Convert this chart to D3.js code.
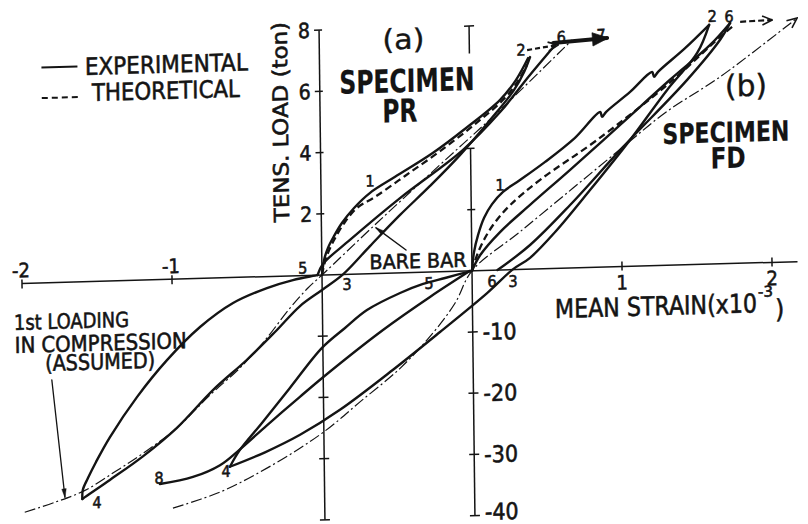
<!DOCTYPE html>
<html><head><meta charset="utf-8">
<script src="https://cdn.jsdelivr.net/npm/d3@7"></script>
<style>
html,body{margin:0;padding:0;background:#fff;}
svg{display:block;}
text{font-family:'DejaVu Sans Condensed','DejaVu Sans',sans-serif;font-stretch:condensed;fill:#141414;stroke:#141414;stroke-width:0.55px;}
text.heavy{stroke-width:0.2px;}
text.light{stroke-width:0.35px;}
</style></head><body>
<svg id="chart" width="808" height="524"></svg>
<script>
// Mean strain in units of 1e-3, load in tons (tension positive, compression negative).
const strainTicksPR = [-2, -1];
const strainTicksFD = [1, 2];
const tensionTicks = [2, 4, 6, 8];
const compressionTicks = [-10, -20, -30, -40];

// ---- Specimen PR (origin at strain 0) ----
const prLoading = [[0,0],[0.015,0.49],[0.042,0.88],[0.083,1.26],[0.137,1.68],[0.219,2.16],[0.327,2.64],[0.495,3.14],[0.750,3.89],[0.972,4.67],[1.201,5.56],[1.309,6.20],[1.391,6.90]];
const prTheory = [[0,0],[0.028,0.55],[0.083,1.13],[0.157,1.71],[0.239,2.16],[0.359,2.50],[0.561,3.16],[0.797,3.94],[1.032,4.79],[1.234,5.62],[1.336,6.26],[1.383,6.68]];
const prUnloadToFour = [[1.404,6.93],[1.363,6.45],[1.295,5.87],[1.133,4.91],[0.929,3.79],[0.727,2.81],[0.525,1.89],[0.322,0.90],[0.14,0],[-0.001,-2.45],[-0.149,-4.97],[-0.318,-9.10],[-0.507,-13.5],[-0.736,-18.3],[-0.979,-24.3],[-1.208,-28.8],[-1.430,-32.5],[-1.598,-35.2],[-1.615,-35.5]];
const prFourToFive = [[-1.615,-35.5],[-1.611,-34.0],[-1.576,-32.1],[-1.521,-29.5],[-1.426,-25.5],[-1.243,-19.1],[-1.040,-13.2],[-0.817,-7.94],[-0.595,-4.17],[-0.368,-1.88],[-0.194,-0.69],[-0.060,-0.11],[-0.03,0]];
const prFiveToSix = [[-0.03,0],[0.007,0.36],[0.189,1.12],[0.526,2.44],[0.950,3.96],[1.200,5.16],[1.403,6.35],[1.572,7.30]];
const prSixToSeven = [[1.559,7.37],[1.919,7.48]];
const prTwoToSix = [[1.385,7.16],[1.592,7.30]];
const prSevenToEight = [[0.987,0],[0.718,-4.08],[0.402,-9.26],[-0.001,-16.7],[-0.157,-19.8],[-0.379,-24.3],[-0.561,-28.1],[-0.695,-30.6],[-0.876,-32.4],[-1.097,-33.4]];
const prBareBar = [[-2.0,-37.4],[-1.798,-35.9],[-1.597,-34.1],[-1.396,-31.2],[-1.194,-28.1],[-0.979,-24.3],[-0.756,-19.1],[-0.554,-14.8],[-0.385,-10.4],[-0.216,-5.25],[-0.095,-2.06],[0,0],[0.377,1.68],[0.795,3.49],[1.200,5.23],[1.685,7.45]];

// ---- Specimen FD (origin shifted by 1e-3) ----
const fdLoading = [[0,0],[0.015,0.61],[0.043,1.16],[0.085,1.72],[0.139,2.16],[0.213,2.55],[0.327,2.92],[0.496,3.49],[0.697,4.25],[0.867,5.07],[0.879,4.91],[0.907,5.07],[1.068,5.70],[1.216,6.33],[1.229,6.17],[1.256,6.33],[1.438,7.08],[1.600,7.82]];
const fdTheory = [[0,0],[0.035,0.51],[0.089,1.06],[0.157,1.56],[0.259,2.11],[0.461,2.91],[0.844,4.16],[1.355,6.05],[1.673,7.42],[1.753,7.73]];
const fdTheoryOn = [[1.807,7.89],[2.021,7.92]];
const fdUnloadToFour = [[1.600,7.82],[1.518,6.91],[1.315,5.73],[1.064,4.13],[0.793,2.53],[0.557,1.19],[0.388,0.37],[0.27,0],[0.099,-3.71],[-0.218,-9.85],[-0.534,-15.8],[-0.891,-22.1],[-1.159,-26.0],[-1.394,-28.7],[-1.629,-30.9]];
const fdFourToFive = [[-1.629,-30.9],[-1.561,-28.2],[-1.412,-23.9],[-1.223,-18.3],[-1.006,-11.9],[-0.851,-8.76],[-0.703,-5.93],[-0.481,-3.30],[-0.327,-1.93],[-0.180,-1.05],[0,0]];
const fdFiveToSix = [[0,0],[0.055,0.50],[0.190,1.24],[0.392,2.10],[0.662,3.21],[0.999,4.63],[1.335,6.06],[1.605,7.16],[1.740,7.86]];
const fdSixUnload = [[1.740,7.86],[1.672,7.32],[1.449,6.04],[1.017,3.91],[0.659,2.06],[0.389,0.79],[0.17,0]];
const fdBareBar = [[-2.012,-37.4],[-1.697,-35.0],[-1.429,-31.9],[-1.161,-28.2],[-0.959,-24.9],[-0.757,-20.9],[-0.487,-15.6],[-0.265,-9.98],[-0.115,-5.18],[0,0],[0.323,1.23],[0.680,2.61],[1.017,3.91],[1.307,5.01],[1.669,6.11],[2.187,7.96]];

// Load-step numbers
const prStepLabels = [["1",0.327,3.03],["2",1.345,7.17],["6",1.613,7.56],["7",1.879,7.59],["5",-0.127,0.25],["3",0.166,-1.6],["4",-1.518,-36.1],["8",-1.103,-32.4]];
const fdStepLabels = [["1",0.194,2.78],["2",1.621,8.10],["6",1.734,8.08],["5",-0.287,-1.8],["6",0.133,-1.78],["3",0.273,-1.86],["4",-1.656,-31.6]];

// Annotation pointers
const bareBarPointer = [[0.562,0.74],[0.364,1.49]];
const assumedPointer = [[-1.809,-15.9],[-1.731,-35.1]];

const svg = d3.select('#chart');
const x = d3.scaleLinear().domain([0,1]).range([322,472]);     // specimen PR strain
const xFD = d3.scaleLinear().domain([0,1]).range([472,622]);   // specimen FD strain
const y = d3.scaleLinear().domain([-40,0,8]).range([519.8,275,30.2]);

const defs = svg.append('defs');
function marker(id, d, filled, w, h){
  defs.append('marker').attr('id',id).attr('viewBox','0 -6 12 12').attr('refX',11).attr('refY',0)
    .attr('markerWidth',w).attr('markerHeight',h).attr('markerUnits','userSpaceOnUse').attr('orient','auto')
    .append('path').attr('d',d).attr('fill',filled?'#141414':'none').attr('stroke','#141414').attr('stroke-width',filled?0.5:1.6);
}
marker('headFill','M0,-4L12,0L0,4Z',true,12,12);
marker('headThick','M0,-5L12,0L0,5Z',true,18,16);
marker('headOpen','M1,-4.5L11,0L1,4.5',false,12,12);
marker('headNarrow','M0,-3L12,0L0,3Z',true,11,9);

const g = svg.append('g').attr('transform','matrix(1,-0.028,0.012,1,-3.3,9.016)');

const linePR = d3.line().x(d=>x(d[0])).y(d=>y(d[1])).curve(d3.curveCatmullRom.alpha(0.5));
const lineFD = d3.line().x(d=>xFD(d[0])).y(d=>y(d[1])).curve(d3.curveCatmullRom.alpha(0.5));
const straightPR = d3.line().x(d=>x(d[0])).y(d=>y(d[1]));
const straightFD = d3.line().x(d=>xFD(d[0])).y(d=>y(d[1]));

const INK = '#141414';
const styles = {
  exp: {w:2.4, dash:null},
  theo: {w:2.3, dash:'7,4'},
  bare: {w:1.2, dash:'11,3,2,3'}
};
function draw(gen, data, st, extra){
  const p = g.append('path').attr('d', gen(data)).attr('fill','none').attr('stroke',INK)
    .attr('stroke-width', st.w).attr('stroke-linejoin','round').attr('stroke-linecap','round');
  if (st.dash) p.attr('stroke-dasharray', st.dash).attr('stroke-linecap','butt');
  if (extra) extra(p);
  return p;
}

// ---- axes ----
const axis = g.append('g').attr('stroke',INK).attr('stroke-width',1.5).attr('fill','none');
axis.append('line').attr('x1',x(-2)).attr('x2',x(3.17)).attr('y1',y(0)).attr('y2',y(0));
axis.append('line').attr('x1',x(0)).attr('x2',x(0)).attr('y1',y(8)).attr('y2',y(-40));
axis.append('line').attr('x1',xFD(0)).attr('x2',xFD(0)).attr('y1',y(8)).attr('y2',y(7.1));
axis.append('line').attr('x1',xFD(0)).attr('x2',xFD(0)).attr('y1',y(4)).attr('y2',y(-40));
// strain ticks
strainTicksPR.forEach(v=>axis.append('line').attr('x1',x(v)).attr('x2',x(v)).attr('y1',y(0)-4).attr('y2',y(0)+5));
strainTicksFD.forEach(v=>axis.append('line').attr('x1',xFD(v)).attr('x2',xFD(v)).attr('y1',y(0)-5).attr('y2',y(0)+4));
// load ticks
tensionTicks.forEach(v=>axis.append('line').attr('x1',x(0)-5).attr('x2',x(0)+3).attr('y1',y(v)).attr('y2',y(v)));
compressionTicks.forEach(v=>axis.append('line').attr('x1',x(0)-5).attr('x2',x(0)+5).attr('y1',y(v)).attr('y2',y(v)));
[2,4].forEach(v=>axis.append('line').attr('x1',xFD(0)-4).attr('x2',xFD(0)+4).attr('y1',y(v)).attr('y2',y(v)));
[8].forEach(v=>axis.append('line').attr('x1',xFD(0)-5).attr('x2',xFD(0)+5).attr('y1',y(v)).attr('y2',y(v)));
compressionTicks.forEach(v=>axis.append('line').attr('x1',xFD(0)-5).attr('x2',xFD(0)+5).attr('y1',y(v)).attr('y2',y(v)));

// tick labels
const tl = g.append('g');
strainTicksPR.forEach(v=>tl.append('text').attr('x',x(v)-1).attr('y',y(0)-6).attr('text-anchor','middle').attr('font-size',20).text('-' + Math.abs(v)));
strainTicksFD.forEach(v=>tl.append('text').attr('x',xFD(v)).attr('y',y(0)+23).attr('text-anchor','middle').attr('font-size',20).text(v));
tensionTicks.forEach(v=>tl.append('text').attr('x',x(0)-9).attr('y',y(v)).attr('dy','0.36em').attr('text-anchor','end').attr('font-size',21).text(v));
compressionTicks.forEach(v=>tl.append('text').attr('x',xFD(0)+10).attr('y',y(v)).attr('dy', v === -40 ? '0.2em' : '0.36em').attr('text-anchor','start').attr('font-size',23).text('-' + Math.abs(v)));

// ---- curves: specimen PR ----
draw(linePR, prBareBar, styles.bare);
draw(linePR, prTheory, styles.theo);
draw(linePR, prLoading, styles.exp);
draw(linePR, prUnloadToFour, styles.exp);
draw(linePR, prFourToFive, styles.exp);
draw(linePR, prFiveToSix, styles.exp);
draw(linePR, prSevenToEight, styles.exp);
draw(straightPR, prTwoToSix, {w:2.2, dash:'5,3'}, p=>p.attr('marker-end','url(#headOpen)'));
draw(straightPR, prSixToSeven, {w:4, dash:null}, p=>p.attr('marker-end','url(#headThick)'));

// ---- curves: specimen FD ----
draw(lineFD, fdBareBar, styles.bare, p=>p.attr('marker-end','url(#headOpen)'));
draw(lineFD, fdTheory, styles.theo);
draw(straightFD, fdTheoryOn, {w:2.2, dash:'6,3'}, p=>p.attr('marker-end','url(#headOpen)'));
draw(lineFD, fdLoading, styles.exp);
draw(lineFD, fdUnloadToFour, styles.exp);
draw(lineFD, fdFourToFive, styles.exp);
draw(lineFD, fdFiveToSix, styles.exp);
draw(lineFD, fdSixUnload, styles.exp);

// pointers
draw(straightPR, bareBarPointer, {w:1.4}, p=>p.attr('marker-end','url(#headNarrow)'));
draw(straightPR, assumedPointer, {w:1.3}, p=>p.attr('marker-end','url(#headNarrow)'));

// step numbers
const sl = g.append('g').attr('font-size',16).attr('text-anchor','middle');
prStepLabels.forEach(([t,s,l])=>sl.append('text').attr('x',x(s)).attr('y',y(l)).attr('dy','0.36em').text(t));
fdStepLabels.forEach(([t,s,l])=>sl.append('text').attr('x',xFD(s)).attr('y',y(l)).attr('dy','0.36em').text(t));

// ---- text ----
function label(t, px, py, size, opts={}){
  const el = g.append('text').attr('x',px).attr('y',py).attr('font-size',size).text(t);
  if (opts.anchor) el.attr('text-anchor',opts.anchor);
  if (opts.weight) el.attr('font-weight',opts.weight);
  if (opts.cls) el.attr('class',opts.cls);
  if (opts.len) el.attr('textLength',opts.len).attr('lengthAdjust','spacingAndGlyphs');
  if (opts.rotate) el.attr('transform',`rotate(${opts.rotate},${px},${py})`);
  return el;
}
// legend
g.append('line').attr('x1',44).attr('x2',80).attr('y1',59.7).attr('y2',59.7).attr('stroke',INK).attr('stroke-width',2);
g.append('line').attr('x1',44).attr('x2',82).attr('y1',90.3).attr('y2',90.3).attr('stroke',INK).attr('stroke-width',2).attr('stroke-dasharray','6,4');
label('EXPERIMENTAL', 87.4, 68.4, 24, {len:163});
label('THEORETICAL', 94.1, 94.6, 24, {len:148});

label('TENS. LOAD (ton)', 289.8, 121, 21, {anchor:'middle', rotate:-90, len:200});
label('(a)', 406.2, 51.4, 28, {anchor:'middle', len:42, cls:'light'});
label('SPECIMEN', 409.2, 94.4, 32, {anchor:'middle', weight:'bold', len:135, cls:'heavy'});
label('PR', 401.8, 124.2, 32, {anchor:'middle', weight:'bold', len:35, cls:'heavy'});
label('(b)', 748.1, 107.9, 30, {anchor:'middle', len:42, cls:'light'});
label('SPECIMEN', 727.5, 153.5, 28, {anchor:'middle', weight:'bold', len:127, cls:'heavy'});
label('FD', 729.3, 179.4, 29, {anchor:'middle', weight:'bold', len:35, cls:'heavy'});
label('BARE BAR', 418.1, 270.7, 20, {anchor:'middle', len:97});
label('MEAN STRAIN(x10', 554.5, 324.5, 26, {len:202});
label('-3', 757.7, 309.2, 15, {len:15});
label(')', 774.7, 330.7, 26);
label('1st LOADING', 13.5, 321.4, 21, {len:115});
label('IN COMPRESSION', 14, 344.4, 22, {len:172});
label('(ASSUMED)', 44.2, 363.2, 22, {len:110});
</script>
</body></html>
